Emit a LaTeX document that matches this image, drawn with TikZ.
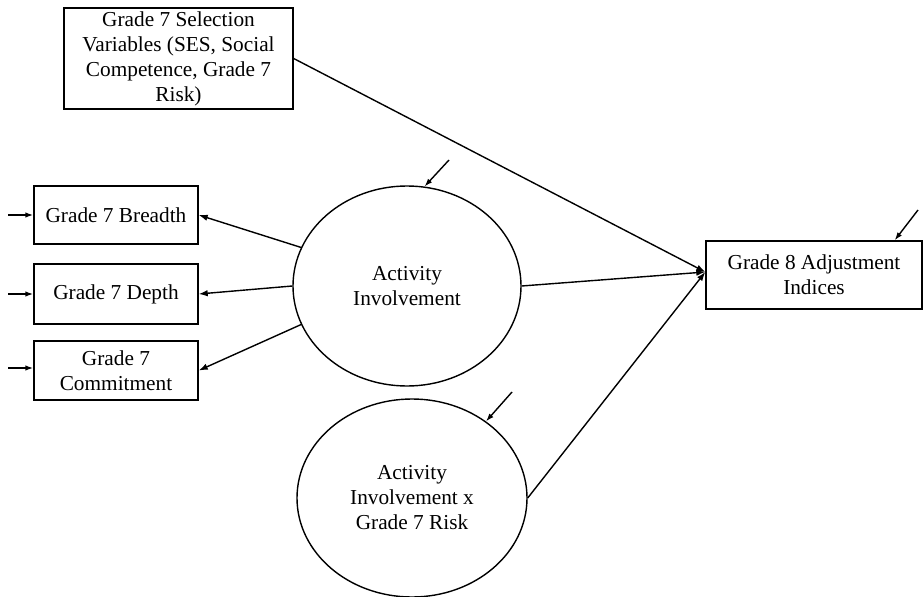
\documentclass[tikz,border=0pt]{standalone}
\usepackage{fontspec}
\setmainfont{Liberation Serif}
\usetikzlibrary{arrows.meta,shapes.geometric}
\tikzset{>={Latex[length=9pt,width=6.5pt]},
  every node/.style={font=\fontsize{21.3}{25}\selectfont,align=center},
  obsbox/.style={draw,rectangle,inner sep=2pt},
  latent/.style={draw,ellipse,inner sep=0pt},
  path/.style={->},
  errarrow/.style={->,>={Latex[length=8pt,width=5.5pt]}}}
\begin{document}
\begin{tikzpicture}[x=1pt,y=-1pt,line width=1.4pt]
\useasboundingbox (0,0) rectangle (924,597);
% observed variables
\node[obsbox,minimum width=229pt,minimum height=101pt] (sel) at (178.5,58.5)
  {Grade 7 Selection\\Variables (SES, Social\\Competence, Grade 7\\Risk)};
\node[obsbox,minimum width=164pt,minimum height=58pt] (breadth) at (116,215) {Grade 7 Breadth};
\node[obsbox,minimum width=164pt,minimum height=60pt] (depth) at (116,294) {Grade 7 Depth};
\node[obsbox,minimum width=164pt,minimum height=59pt] (commit) at (116,370.5) {Grade 7\\Commitment};
\node[obsbox,minimum width=216pt,minimum height=68pt] (adjust) at (814,275) {Grade 8 Adjustment\\Indices};
% latent variables
\node[latent,minimum width=228pt,minimum height=200pt] (act) at (407,286) {Activity\\Involvement};
\node[latent,minimum width=230pt,minimum height=198pt] (inter) at (412,498) {Activity\\Involvement x\\Grade 7 Risk};
% error terms
\coordinate (ebreadth) at (8,215);
\coordinate (edepth) at (8,294);
\coordinate (ecommit) at (8,368);
\coordinate (eact) at (449,160);
\coordinate (einter) at (512,392);
\coordinate (eadjust) at (918,210);
\draw[errarrow] (ebreadth) -- (breadth.west);
\draw[errarrow] (edepth) -- (depth.west);
\draw[errarrow] (ecommit) -- (ecommit -| commit.west);
\draw[errarrow] (eact) -- (act.80);
\draw[errarrow] (einter) -- (inter.46);
\draw[errarrow] (eadjust) -- ([xshift=-28pt]adjust.north east);
% paths
\draw[path] (act.160) -- (breadth.east);
\draw[path] (act.west) -- (depth.east);
\draw[path] (act.200) -- (commit.east);
\draw[path] (sel.east) -- ([yshift=3pt]adjust.west);
\draw[path] (act.east) -- ([yshift=3pt]adjust.west);
\draw[path] (inter.east) -- ([yshift=3pt]adjust.west);
\end{tikzpicture}
\end{document}
